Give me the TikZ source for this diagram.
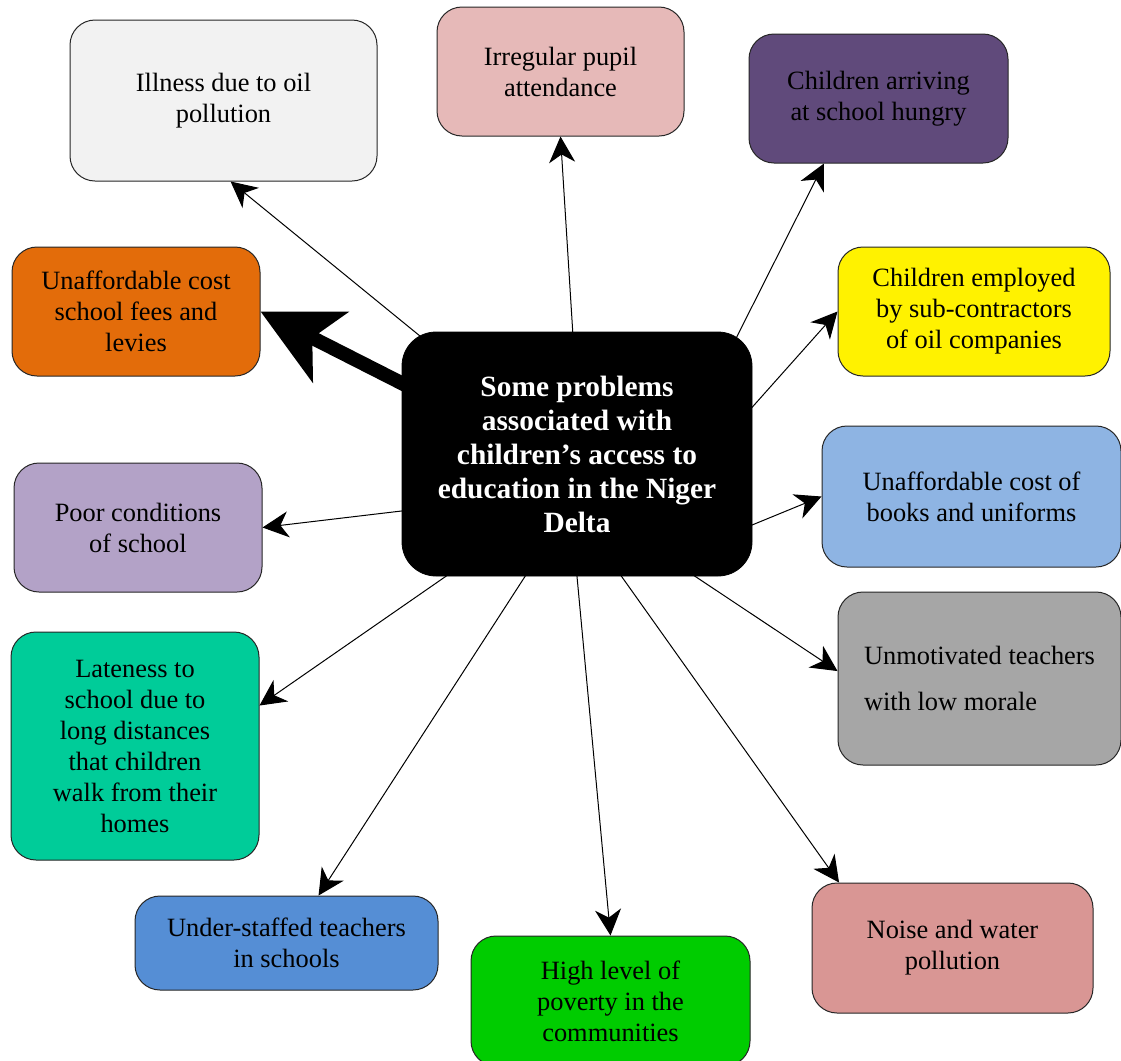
\documentclass[tikz,border=0pt]{standalone}
\usepackage{fontspec}
\setmainfont{Liberation Serif}
\usepackage{tikz}
\usepackage{xcolor}
\usetikzlibrary{arrows.meta}

\definecolor{illgray}{HTML}{F2F2F2}
\definecolor{pinkish}{HTML}{E6B9B8}
\definecolor{plum}{HTML}{604A7B}
\definecolor{feeorange}{HTML}{E36C0A}
\definecolor{lilac}{HTML}{B3A2C7}
\definecolor{skyblue}{HTML}{8EB4E3}
\definecolor{midgray}{HTML}{A6A6A6}
\definecolor{teal}{HTML}{00CC99}
\definecolor{steel}{HTML}{558ED5}
\definecolor{brightgreen}{HTML}{00CC00}
\definecolor{rose}{HTML}{D99694}

\begin{document}
\begin{tikzpicture}[x=0.5pt,y=-0.5pt,
box/.style={draw=black!85,line width=0.5pt,rounded corners=12.5pt,align=center,font=\fontsize{13.2}{15.5}\selectfont},
hubbox/.style={draw=black,fill=black,text=white,rounded corners=17pt,align=center,minimum width=175pt,minimum height=122pt,font=\bfseries\fontsize{14.7}{17}\selectfont},
arrow/.style={-{Stealth[length=13pt,width=13pt,inset=4pt]},line width=0.5pt,shorten <=-4pt},
bigarrow/.style={-{Stealth[length=39pt,width=39pt,inset=10pt]},line width=7pt,shorten <=-4pt}
]
\useasboundingbox (0,0) rectangle (1121,1061);
\node[hubbox] (hub) at (577,454) {Some problems\\associated with\\children’s access to\\education in the Niger\\Delta};
\node[box,fill=illgray,minimum width=153.5pt,minimum height=80.5pt] (illness) at (223.5,100.5) {Illness due to oil\\pollution};
\node[box,fill=pinkish,minimum width=123.5pt,minimum height=64.5pt] (irregular) at (560.5,71.5) {Irregular pupil\\attendance};
\node[box,fill=plum,minimum width=129.5pt,minimum height=64.5pt] (hungry) at (878.5,98.5) {Children arriving\\at school hungry};
\node[box,fill=feeorange,minimum width=124pt,minimum height=64.5pt] (fees) at (136,311.5) {Unaffordable cost\\school fees and\\levies};
\node[box,fill=yellow,minimum width=136pt,minimum height=64.5pt] (employed) at (974,311.5) {Children employed\\by sub-contractors\\of oil companies};
\node[box,fill=lilac,minimum width=124pt,minimum height=64.5pt] (poor) at (138,527.5) {Poor conditions\\of school};
\node[box,fill=skyblue,minimum width=149.5pt,minimum height=70.5pt] (books) at (971.5,496.5) {Unaffordable cost of\\books and uniforms};
\node[box,fill=midgray,minimum width=141.5pt,minimum height=86.5pt,align=left,font=\fontsize{13.2}{23}\selectfont] (teachers) at (979.5,678.5) {Unmotivated teachers\\with low morale};
\node[box,fill=teal,minimum width=124pt,minimum height=114pt] (lateness) at (135,746) {Lateness to\\school due to\\long distances\\that children\\walk from their\\homes};
\node[box,fill=steel,minimum width=151.5pt,minimum height=47pt] (staffing) at (286.5,943) {Under-staffed teachers\\in schools};
\node[box,fill=brightgreen,minimum width=139.5pt,minimum height=65pt] (poverty) at (610.5,1001) {High level of\\poverty in the\\communities};
\node[box,fill=rose,minimum width=140.5pt,minimum height=65pt] (noise) at (952.5,948) {Noise and water\\pollution};

\draw[arrow] (hub.143) -- (illness.-85);
\draw[arrow] (hub.92) -- (irregular.south);
\draw[arrow] (hub.37) -- (hungry.-130);
\draw[arrow] (hub.15) -- (employed.west);
\draw[arrow] (hub.-22) -- (books.west);
\draw[arrow] (hub.-46) -- (teachers.177);
\draw[arrow] (hub.-70) -- (noise.150);
\draw[arrow] (hub.south) -- (poverty.north);
\draw[arrow] (hub.-113) -- (staffing.56);
\draw[arrow] (hub.-137) -- (lateness.18);
\draw[arrow] (hub.-162) -- (poor.east);
\draw[bigarrow] (hub.158) -- (fees.east);
\end{tikzpicture}
\end{document}
